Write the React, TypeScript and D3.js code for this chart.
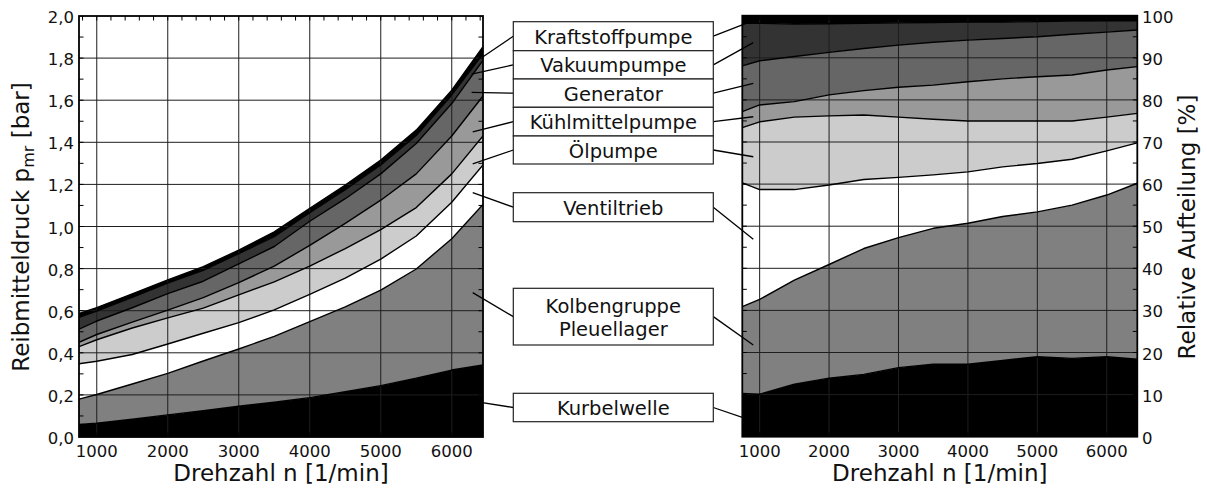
import React from "react";
import * as d3 from "d3";

// ---------- DATA ----------
const rpm = [750, 1000, 1500, 2000, 2500, 3000, 3500, 4000, 4500, 5000, 5500, 6000, 6440];

// Left panel: cumulative upper boundary of each component [bar]
const kurbelwelleBar = [0.060, 0.066, 0.085, 0.105, 0.125, 0.146, 0.165, 0.187, 0.215, 0.244, 0.279, 0.318, 0.342];
const kolbengruppeBar = [0.180, 0.202, 0.252, 0.302, 0.361, 0.418, 0.478, 0.548, 0.618, 0.698, 0.798, 0.942, 1.105];
const ventiltriebBar = [0.348, 0.360, 0.392, 0.442, 0.493, 0.543, 0.604, 0.678, 0.755, 0.845, 0.955, 1.115, 1.292];
const oelpumpeBar = [0.429, 0.462, 0.518, 0.566, 0.612, 0.675, 0.737, 0.812, 0.895, 0.985, 1.090, 1.250, 1.430];
const kuehlmittelpumpeBar = [0.450, 0.487, 0.546, 0.603, 0.662, 0.733, 0.812, 0.910, 1.015, 1.125, 1.250, 1.430, 1.620];
const generatorBar = [0.512, 0.551, 0.614, 0.681, 0.740, 0.822, 0.905, 1.025, 1.132, 1.250, 1.394, 1.584, 1.790];
const vakuumpumpeBar = [0.568, 0.598, 0.664, 0.731, 0.792, 0.871, 0.952, 1.066, 1.175, 1.292, 1.432, 1.625, 1.820];
const kraftstoffpumpeBar = [0.587, 0.615, 0.680, 0.746, 0.809, 0.888, 0.975, 1.086, 1.197, 1.316, 1.458, 1.648, 1.854];

// Right panel: cumulative upper boundary of each component [%]
const kurbelwellePct = [10.3, 10.1, 12.5, 13.9, 14.8, 16.4, 17.2, 17.2, 18.1, 19.0, 18.6, 19.0, 18.4];
const kolbengruppePct = [30.9, 32.6, 37.2, 40.9, 44.7, 47.3, 49.5, 50.7, 52.3, 53.4, 55.0, 57.4, 60.2];
const ventiltriebPct = [60.3, 58.7, 58.7, 59.8, 61.1, 61.6, 62.2, 62.9, 64.1, 64.9, 65.9, 67.9, 69.8];
const oelpumpePct = [73.4, 74.8, 75.9, 76.2, 76.4, 75.9, 75.4, 75.0, 75.0, 75.0, 75.0, 75.9, 76.8];
const kuehlmittelpumpePct = [77.2, 78.8, 79.6, 81.2, 82.2, 83.0, 83.5, 84.3, 85.0, 85.5, 85.9, 87.1, 87.9];
const generatorPct = [88.1, 89.3, 90.3, 91.3, 92.2, 93.0, 93.7, 94.2, 94.6, 95.0, 95.6, 96.1, 96.6];
const vakuumpumpePct = [98.2, 98.2, 98.0, 98.1, 98.2, 98.3, 98.4, 98.5, 98.5, 98.6, 98.7, 98.8, 98.8];
const kraftstoffpumpePct = [100, 100, 100, 100, 100, 100, 100, 100, 100, 100, 100, 100, 100];

const xTicks = [1000, 2000, 3000, 4000, 5000, 6000];
const yTicksBar = [0, 0.2, 0.4, 0.6, 0.8, 1.0, 1.2, 1.4, 1.6, 1.8, 2.0];
const yTicksPct = [0, 10, 20, 30, 40, 50, 60, 70, 80, 90, 100];

// legend labels, top to bottom
const legendLabels = [
  ["Kraftstoffpumpe"],
  ["Vakuumpumpe"],
  ["Generator"],
  ["Kühlmittelpumpe"],
  ["Ölpumpe"],
  ["Ventiltrieb"],
  ["Kolbengruppe", "Pleuellager"],
  ["Kurbelwelle"],
];
// annotation anchor points (data units) for each legend entry
const leftAnchorRpm = [6430, 6280, 6280, 6295, 6295, 6295, 6295, 6295];
const leftAnchorBar = [1.804, 1.724, 1.637, 1.45, 1.297, 1.161, 0.686, 0.17];
const rightAnchorRpm = [870, 908, 908, 908, 908, 908, 908, 908];
const rightAnchorPct = [98.6, 93.6, 83.9, 76.0, 66.5, 46.9, 21.8, 3.7];

// ---------- STYLE / LAYOUT ----------
const FONT = "'DejaVu Sans', Verdana, sans-serif";
const FILLS = ["#000000", "#808080", "#ffffff", "#cccccc", "#999999", "#666666", "#333333", "#000000"];
const legendTop = [21.7, 50.7, 79, 107.3, 136, 192.7, 288.3, 393.3];
const legendHeight = [29, 28.3, 28.3, 28.7, 28, 29, 56.7, 28.4];
const BOX_X0 = 513.3;
const BOX_X1 = 713.3;

const leftLayers = [kurbelwelleBar, kolbengruppeBar, ventiltriebBar, oelpumpeBar, kuehlmittelpumpeBar, generatorBar, vakuumpumpeBar, kraftstoffpumpeBar];
const rightLayers = [kurbelwellePct, kolbengruppePct, ventiltriebPct, oelpumpePct, kuehlmittelpumpePct, generatorPct, vakuumpumpePct, kraftstoffpumpePct];

const xL = d3.scaleLinear().domain([750, 6440]).range([79, 483]);
const yL = d3.scaleLinear().domain([0, 2]).range([437, 16]);
const xR = d3.scaleLinear().domain([750, 6440]).range([742.3, 1137.3]);
const yR = d3.scaleLinear().domain([0, 100]).range([436.7, 15.7]);

type Scale = d3.ScaleLinear<number, number>;

function Panel(props: { x: Scale; y: Scale; layers: number[][]; yTicks: number[]; yMinorStep: number; id: string }) {
  const { x, y, layers, yTicks, yMinorStep, id } = props;
  const [x0, x1] = x.range();
  const [yb, yt] = y.range();
  const [d0, d1] = y.domain();
  const area = (i: number) =>
    d3
      .area<number>()
      .x((_, k) => x(rpm[k]))
      .y0((_, k) => (i === 0 ? y(0) : y(layers[i - 1][k])))
      .y1((_, k) => y(layers[i][k]))(rpm);
  const line = (i: number) =>
    d3
      .line<number>()
      .x((_, k) => x(rpm[k]))
      .y((_, k) => y(layers[i][k]))(rpm);
  const xMinor = d3.range(800, 6440, 200);
  const yMinor = d3.range(d0, d1 + 1e-9, yMinorStep);
  const TL = 4.5;
  return (
    <g>
      <defs>
        <clipPath id={id}>
          <rect x={x0} y={yt} width={x1 - x0} height={yb - yt} />
        </clipPath>
      </defs>
      <g clipPath={`url(#${id})`}>
        {layers.map((_, i) => (
          <path key={"a" + i} d={area(i) || ""} fill={FILLS[i]} stroke="none" />
        ))}
        {xTicks.map((t) => (
          <line key={"gx" + t} x1={x(t)} x2={x(t)} y1={yt} y2={yb} stroke="#1e1e1e" strokeWidth={1} />
        ))}
        {yTicks.slice(1, -1).map((t) => (
          <line key={"gy" + t} x1={x0} x2={x1} y1={y(t)} y2={y(t)} stroke="#1e1e1e" strokeWidth={1} />
        ))}
        {layers.map((_, i) => (
          <path key={"l" + i} d={line(i) || ""} fill="none" stroke="#000" strokeWidth={1.4} strokeLinejoin="round" />
        ))}
        {xMinor.map((t) => (
          <g key={"tx" + t}>
            <line x1={x(t)} x2={x(t)} y1={yt} y2={yt + TL} stroke="#000" strokeWidth={1} />
            <line x1={x(t)} x2={x(t)} y1={yb} y2={yb - TL} stroke="#000" strokeWidth={1} />
          </g>
        ))}
        {yMinor.map((t) => (
          <g key={"ty" + t}>
            <line x1={x0} x2={x0 + TL} y1={y(t)} y2={y(t)} stroke="#000" strokeWidth={1} />
            <line x1={x1} x2={x1 - TL} y1={y(t)} y2={y(t)} stroke="#000" strokeWidth={1} />
          </g>
        ))}
      </g>
      <rect x={x0} y={yt} width={x1 - x0} height={yb - yt} fill="none" stroke="#000" strokeWidth={1.8} />
      {xTicks.map((t) => (
        <text key={"xl" + t} x={x(t)} y={451} fontSize={16.5} fontFamily={FONT} textAnchor="middle" dominantBaseline="central" fill="#111">
          {t}
        </text>
      ))}
      <text x={(x0 + x1) / 2} y={481} fontSize={23} fontFamily={FONT} textAnchor="middle" fill="#111">
        Drehzahl n [1/min]
      </text>
    </g>
  );
}

export default function App() {
  const fmtBar = (v: number) => d3.format(".1f")(v).replace(".", ",");
  return (
    <svg width={1207} height={489} style={{ position: "absolute", left: 0, top: 0, background: "#fff" }} fontFamily={FONT}>
      <rect x={0} y={0} width={1207} height={489} fill="#fff" />
      <Panel x={xL} y={yL} layers={leftLayers} yTicks={yTicksBar} yMinorStep={0.1} id="clipL" />
      <Panel x={xR} y={yR} layers={rightLayers} yTicks={yTicksPct} yMinorStep={5} id="clipR" />

      {yTicksBar.map((t) => (
        <text key={"yl" + t} x={74} y={yL(t) + 1.5} fontSize={16.5} textAnchor="end" dominantBaseline="central" fill="#111">
          {fmtBar(t)}
        </text>
      ))}
      {yTicksPct.map((t) => (
        <text key={"yr" + t} x={1142} y={yR(t) + 1.5} fontSize={16.5} textAnchor="start" dominantBaseline="central" fill="#111">
          {t}
        </text>
      ))}

      <text transform="translate(28.5,227) rotate(-90)" fontSize={23} textAnchor="middle" fill="#111">
        Reibmitteldruck p<tspan fontSize={16} dy={5}>mr</tspan>
        <tspan dy={-5}> [bar]</tspan>
      </text>
      <text transform="translate(1195,227) rotate(-90)" fontSize={23} textAnchor="middle" fill="#111">
        Relative Aufteilung [%]
      </text>

      {legendLabels.map((lab, i) => {
        const cy = legendTop[i] + legendHeight[i] / 2;
        return (
          <g key={"lg" + i}>
            <line x1={BOX_X0} y1={cy} x2={xL(leftAnchorRpm[i])} y2={yL(leftAnchorBar[i])} stroke="#000" strokeWidth={1.3} />
            <line x1={BOX_X1} y1={cy} x2={xR(rightAnchorRpm[i])} y2={yR(rightAnchorPct[i])} stroke="#000" strokeWidth={1.3} />
            <rect x={BOX_X0} y={legendTop[i]} width={BOX_X1 - BOX_X0} height={legendHeight[i]} fill="#fff" stroke="#222" strokeWidth={1.2} />
            {lab.map((s, j) => (
              <text
                key={j}
                x={(BOX_X0 + BOX_X1) / 2}
                y={cy + 7.5 + (j - (lab.length - 1) / 2) * 23.3}
                fontSize={19.5}
                textAnchor="middle"
                fill="#111"
              >
                {s}
              </text>
            ))}
          </g>
        );
      })}
    </svg>
  );
}
